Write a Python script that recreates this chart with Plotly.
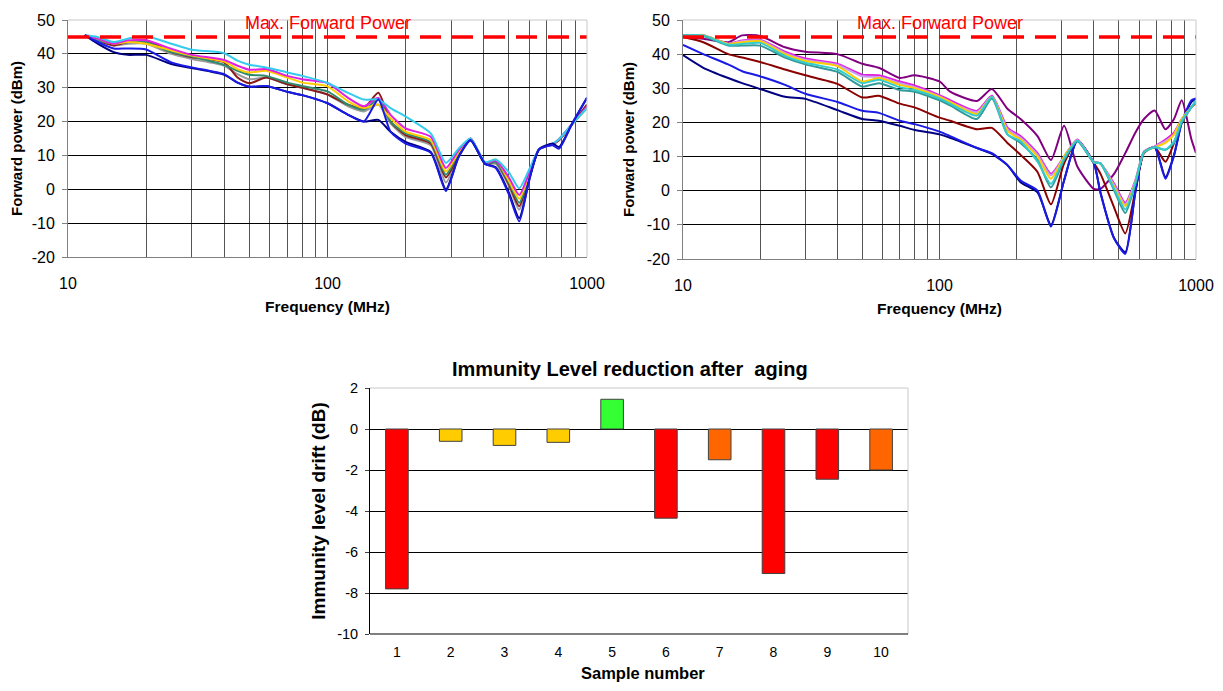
import plotly.graph_objects as go

# ---- data ----
MAX_POWER = 45
FREQ_SPAN = [10, 1000]

# before aging (left plot)
f_left = [11.6, 13, 15, 17, 20, 25, 30, 40, 45, 50, 58, 70, 80, 100, 120, 138, 157, 175, 200,
          250, 286, 320, 356, 405, 445, 500, 548, 600, 654, 737, 780, 878, 1000]
left_series = {
    "#9a9a9a": [45.5, 44, 42.5, 43, 43, 40, 38.5, 36.5, 34, 32.5, 33, 31, 30, 28, 24.5, 23, 25, 19.5, 15.5,
                13, 2, 10, 14.5, 7.5, 7.5, 1, -6, 3.5, 11.8, 13.3, 14.5, 19.3, 25],
    "#8b1a1a": [45.5, 44, 42.5, 43.5, 44, 40.5, 39, 37.5, 33, 31.3, 33, 31, 30, 28, 25, 24, 28.5, 20, 16,
                13.5, 3.5, 10, 15, 7.5, 8, 1.5, -5, 4, 11.8, 13.3, 14.5, 19.3, 25],
    "#2e8b6e": [45.5, 44, 43.1, 43.5, 43.5, 40.5, 39.2, 36.7, 35, 33.8, 33.5, 31.5, 30.5, 28.9, 25, 23.5, 26.5, 20, 16.5,
                14, 4.3, 10.5, 14.5, 7.5, 8, 2, -4, 4, 11.8, 13.3, 14.8, 19.3, 24],
    "#ffcc00": [45.5, 44.5, 43, 43.5, 43, 41, 39.5, 37.7, 35.5, 34.5, 35, 33, 31.5, 30.4, 26, 24, 25, 21, 17,
                14.5, 5.3, 11, 15, 7.8, 8.8, 2.5, -2.8, 4.5, 11.8, 13.3, 14.8, 19.3, 24],
    "#e020e0": [45.5, 44.5, 43, 44, 44, 41.5, 39.7, 38.2, 36.5, 35.3, 35.5, 33.5, 32.5, 31.4, 27, 24.5, 27, 22, 18,
                15.5, 6.3, 11.5, 15, 7.8, 8.5, 3.5, -1.7, 5, 11.8, 13.3, 14.8, 19.3, 24.5],
    "#33ccee": [45.5, 45, 43.5, 44.5, 45.2, 43, 41.2, 40.2, 38, 36.8, 36, 34.5, 33.5, 31.4, 28.5, 26.5, 26.5, 24, 21.5,
                16.5, 7.8, 12, 15, 8, 8.8, 5, 0.3, 6, 11.8, 13.5, 14.8, 19.3, 24],
    "#000080": [45.5, 43, 40.5, 39.7, 39.7, 37, 35.8, 33.8, 31.5, 30.3, 30.5, 28.8, 27.8, 25.4, 22, 20, 20.5, 17, 14,
                11, 0, 9.5, 14.5, 7.5, 6.5, -1, -8.5, 3, 11.8, 13.5, 12.5, 19.5, 27],
    "#1a1ae6": [45.5, 43.5, 41.6, 41.6, 41.3, 37.5, 36, 34, 31.5, 30.3, 30.5, 28.8, 27.8, 25.4, 22, 20, 26.5, 17, 13.5,
                10.8, -0.5, 9.5, 14.5, 7.5, 6.3, -1.5, -9.5, 3, 11.8, 13, 12, 19.5, 27],
}

# after aging (right plot)
f_right = [10, 12, 15, 17, 20, 25, 30, 40, 50, 58, 70, 80, 100, 110, 140, 160, 184, 207, 241,
           272, 306, 345, 400, 424, 480, 530, 580, 627, 690, 760, 821, 880, 960, 1000]
right_series = {
    "#800080": [45, 44.5, 43.5, 45.5, 45.3, 42, 40.7, 40, 37.2, 36, 33, 33.8, 32, 29, 26.3, 29.8, 24, 21, 16,
                9, 19, 7, 0.5, 0.5, 5, 11, 17, 21, 23.5, 18, 21, 26.5, 15, 11],
    "#8b0000": [45, 43.5, 40, 39, 37.7, 35.5, 33.8, 31.3, 27.3, 27.8, 25.5, 24.4, 21.4, 20.5, 18, 18.4, 14, 10.5, 5.5,
                -4, 8, 14.5, 8, 5, -5, -12.5, 0, 11, 12.7, 8.5, 14, 20, 24.5, 25.5],
    "#000080": [39.7, 36, 33, 31.5, 29.8, 27.5, 26.9, 23.6, 21, 20.5, 19, 17.8, 16.5, 15.5, 12.5, 10.8, 7.5, 2.5, -0.5,
                -10, 3, 14.7, 8, -0.5, -14, -18, -0.5, 11.3, 12.7, 4, 10.5, 20, 26, 27],
    "#1a1ae6": [42.7, 40, 37, 35, 33.5, 31, 28.4, 26, 23.4, 22.8, 20.5, 19.5, 17.3, 16, 12.5, 11, 7.5, 3, 0,
                -10.5, 3, 14.7, 8, -0.5, -14, -18.5, -0.5, 11.3, 12.7, 3.5, 10.3, 20, 26.5, 27],
    "#e020e0": [45.5, 45.5, 43.2, 44, 44.2, 40.7, 38.7, 37.2, 34, 33.8, 32, 30.8, 28, 26.5, 23.4, 27.8, 18.5, 16, 11,
                5, 10, 15, 8.5, 8, 2, -3.5, 3, 11.5, 13, 15, 17, 21, 24.5, 26],
    "#c89cf0": [45.5, 45.5, 43, 43.8, 44, 40.3, 38.3, 36.8, 33.5, 33.3, 31.5, 30.3, 27.6, 26, 23, 27.5, 18, 15.5, 10.5,
                4.5, 9.8, 14.8, 8.4, 8, 1.5, -4, 2.8, 11.4, 12.9, 14.5, 16.5, 21, 24.5, 26],
    "#ffcc00": [45.5, 45.5, 43, 43.5, 43.8, 40, 38, 36.5, 32, 33, 31, 30, 27.5, 26, 22.5, 27.5, 17.5, 15, 10,
                3.5, 10, 14.7, 8.3, 8, 1, -4.5, 2.5, 11.3, 12.7, 14, 16.5, 21, 24.5, 26],
    "#339999": [45.5, 45.3, 42.5, 42.5, 42.5, 39, 37, 34.8, 30.5, 31.5, 29.5, 29, 26.5, 25, 21, 27, 16.5, 14, 9,
                1, 9, 14.5, 8.3, 8, 0, -6.5, 2, 11.3, 12.7, 12, 14, 20, 24.5, 26],
    "#33cccc": [45.5, 45.5, 42.8, 43, 43.3, 39.5, 37.5, 35.5, 31.5, 32.5, 30.3, 29.5, 27, 25.5, 22, 27.5, 16.5, 14.5, 8.5,
                2, 9.5, 14.7, 8.3, 8, 0.5, -5.5, 2.3, 11.3, 12.7, 12, 14.5, 20.5, 24.5, 26.5],
}

samples = ["1", "2", "3", "4", "5", "6", "7", "8", "9", "10"]
drift = [-7.8, -0.6, -0.8, -0.65, 1.45, -4.35, -1.5, -7.05, -2.45, -2.0]
bar_colors = ["#ff0000", "#ffcc00", "#ffcc00", "#ffcc00", "#33ff33",
              "#ff0000", "#ff6600", "#ff0000", "#ff0000", "#ff6600"]

freq_grid = [10, 20, 30, 40, 50, 60, 70, 80, 90, 100, 200, 300, 400, 500, 600, 700, 800, 900, 1000]
freq_text = ["10"] + [""] * 8 + ["100"] + [""] * 8 + ["1000"]
power_ticks = [-20, -10, 0, 10, 20, 30, 40, 50]
drift_ticks = [-10, -8, -6, -4, -2, 0, 2]

FONT = "Arial, Liberation Sans, sans-serif"
OFF = 8  # page body margin
W, H = 1223 - 2 * OFF, 691 - 2 * OFF

fig = go.Figure()

for col, vals in left_series.items():
    fig.add_trace(go.Scatter(x=f_left, y=vals, mode="lines", xaxis="x", yaxis="y",
                             line=dict(color=col, width=2, shape="spline", smoothing=0.6)))
for col, vals in right_series.items():
    fig.add_trace(go.Scatter(x=f_right, y=vals, mode="lines", xaxis="x2", yaxis="y2",
                             line=dict(color=col, width=2, shape="spline", smoothing=0.6)))

for xa, ya in [("x", "y"), ("x2", "y2")]:
    fig.add_trace(go.Scatter(x=FREQ_SPAN, y=[MAX_POWER] * 2, mode="lines", xaxis=xa, yaxis=ya,
                             line=dict(color="#ff0000", width=3.5, dash="21px,11px")))

fig.add_trace(go.Bar(x=samples, y=drift, xaxis="x3", yaxis="y3", width=0.42,
                     marker=dict(color=bar_colors, line=dict(color="#404040", width=1))))


def px_x(p):
    return (p - OFF) / W


def px_y(p):
    return 1 - (p - OFF) / H


top_x = dict(type="log", range=[1, 3], tickvals=freq_grid, ticktext=freq_text, automargin=False,
             showgrid=True, gridcolor="#555555", gridwidth=1, showline=True, linecolor="#808080",
             ticks="", ticklabelstandoff=12, tickfont=dict(family=FONT, size=16, color="#000"),
             title=dict(text="<b>Frequency (MHz)</b>", font=dict(family=FONT, size=15.5, color="#000"),
                        standoff=9))
top_y = dict(range=[-20, 50], tickvals=power_ticks, ticktext=[str(v) for v in power_ticks],
             showgrid=True, gridcolor="#000000", gridwidth=1, automargin=False,
             showline=True, linecolor="#808080", ticks="outside", ticklen=5, tickcolor="#808080",
             ticklabelstandoff=4,
             zeroline=False, tickfont=dict(family=FONT, size=16, color="#000"),
             title=dict(text="<b>Forward power (dBm)</b>", font=dict(family=FONT, size=15, color="#000"),
                        standoff=8))

fig.update_layout(
    width=W, height=H, margin=dict(l=0, r=0, t=0, b=0),
    paper_bgcolor="white", plot_bgcolor="white", showlegend=False,
    xaxis=dict(top_x, domain=[px_x(68), px_x(587)], anchor="y"),
    yaxis=dict(top_y, domain=[px_y(257), px_y(20)], anchor="x"),
    xaxis2=dict(top_x, domain=[px_x(683), px_x(1196)], anchor="y2"),
    yaxis2=dict(top_y, domain=[px_y(259), px_y(20)], anchor="x2"),
    xaxis3=dict(domain=[px_x(370), px_x(908)], anchor="y3", range=[-0.5, 9.5], automargin=False,
                showline=False, ticks="", ticklabelstandoff=8,
                tickfont=dict(family=FONT, size=14, color="#000")),
    yaxis3=dict(domain=[px_y(634), px_y(388)], anchor="x3", range=[-10, 2], automargin=False,
                tickvals=drift_ticks, ticktext=[str(v) for v in drift_ticks],
                showgrid=True, gridcolor="#000000", showline=True, linecolor="#000000",
                ticks="outside", ticklen=4, ticklabelstandoff=4,
                zeroline=True, zerolinecolor="#000000", zerolinewidth=1,
                tickfont=dict(family=FONT, size=14.5, color="#000"),
                title=dict(text="<b>Immunity level drift (dB)</b>", font=dict(family=FONT, size=19, color="#000"),
                           standoff=6)),
    bargap=0.58,
)

# light plot-area borders (top and right)
for xr, yr in [("x", "y"), ("x2", "y2"), ("x3", "y3")]:
    fig.add_shape(type="line", xref=xr + " domain", yref=yr + " domain", x0=0, x1=1, y0=1, y1=1,
                  line=dict(color="#c8c8c8", width=1), layer="above")
    fig.add_shape(type="line", xref=xr + " domain", yref=yr + " domain", x0=1, x1=1, y0=0, y1=1,
                  line=dict(color="#c8c8c8", width=1), layer="above")
fig.add_shape(type="line", xref="x3 domain", yref="y3 domain", x0=0, x1=1, y0=0, y1=0,
              line=dict(color="#000000", width=1), layer="above")

for xr, yr in [("x", "y"), ("x2", "y2")]:
    fig.add_annotation(text="Max. Forward Power", xref=xr + " domain", yref=yr, x=0.5, y=49.2,
                       showarrow=False, yanchor="middle",
                       font=dict(family=FONT, size=18, color="#ff0000"))

fig.add_annotation(text="<b>Immunity Level reduction after  aging</b>", xref="paper", yref="paper",
                   x=px_x(630), y=px_y(369), showarrow=False, yanchor="middle",
                   font=dict(family=FONT, size=20, color="#000"))
fig.add_annotation(text="<b>Sample number</b>", xref="paper", yref="paper",
                   x=px_x(643), y=0, showarrow=False, yanchor="bottom", borderpad=0,
                   font=dict(family=FONT, size=16.5, color="#000"))

fig.write_html("out.html")
